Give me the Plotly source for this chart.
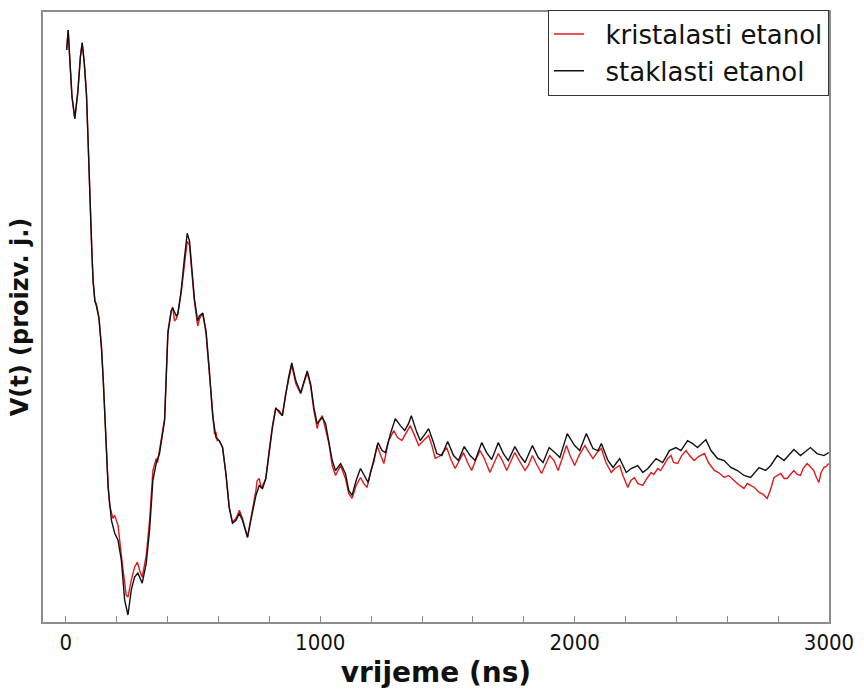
import plotly.graph_objects as go

# time (ns) and signal (arbitrary units)
t_black = [3, 9, 16, 24, 35, 47, 57, 64, 72, 81, 86, 90, 94, 97, 102, 107, 114, 120, 130, 140,
           147, 153, 159, 166, 179, 185, 192, 205, 218, 231, 244, 257, 270, 283, 300, 316, 329, 342,
           355, 368, 378, 388, 401, 414, 420, 434, 440, 453, 466, 477, 486, 496, 505, 518, 525, 538,
           551, 564, 577, 590, 603, 616, 629, 642, 655, 669, 682, 694, 714, 727, 747, 760, 773, 786,
           799, 812, 825, 838, 851, 864, 875, 888, 904, 923, 936, 949, 962, 975, 988, 1008, 1021,
           1034, 1047, 1060, 1080, 1099, 1112, 1125, 1141, 1158, 1178, 1188, 1210, 1227, 1243, 1256,
           1276, 1295, 1315, 1332, 1347, 1358, 1380, 1393, 1413, 1426, 1445, 1458, 1478, 1501, 1524,
           1543, 1566, 1589, 1609, 1635, 1654, 1674, 1700, 1720, 1739, 1765, 1785, 1805, 1834, 1857,
           1876, 1900, 1922, 1942, 1971, 2000, 2020, 2046, 2072, 2092, 2105, 2131, 2151, 2177, 2203,
           2222, 2248, 2268, 2288, 2320, 2346, 2373, 2398, 2418, 2444, 2464, 2483, 2516, 2536, 2562,
           2588, 2614, 2640, 2666, 2692, 2725, 2751, 2771, 2797, 2823, 2862, 2888, 2927, 2953, 2980,
           2999]
v_black = [574, 594, 562, 527, 505, 532, 567, 581, 562, 529, 492, 455, 422, 409, 372, 342, 322, 317,
           305, 275, 242, 209, 172, 135, 102, 95, 89, 82, 62, 22, 7, 32, 45, 49, 39, 59, 92, 142, 159,
           169, 185, 202, 289, 312, 315, 307, 309, 332, 365, 390, 382, 355, 325, 302, 307, 310, 292,
           252, 207, 185, 182, 175, 149, 115, 99, 102, 109, 102, 85, 102, 127, 137, 134, 144, 172, 195,
           214, 212, 207, 229, 245, 260, 242, 230, 242, 252, 239, 215, 199, 205, 199, 182, 162, 152,
           159, 149, 132, 127, 142, 154, 145, 140, 162, 180, 172, 170, 189, 204, 197, 192, 199, 207,
           190, 182, 189, 194, 180, 169, 167, 181, 167, 162, 176, 167, 162, 180, 170, 163, 180, 169,
           162, 176, 167, 160, 177, 165, 160, 175, 170, 165, 189, 177, 172, 189, 174, 172, 179, 162,
           155, 164, 150, 154, 157, 150, 154, 164, 160, 172, 175, 172, 182, 179, 175, 183, 172, 164,
           162, 155, 152, 147, 145, 155, 152, 157, 167, 162, 173, 167, 175, 169, 167, 170]

t_red = [3, 9, 16, 24, 35, 47, 57, 64, 72, 81, 86, 90, 94, 97, 102, 107, 114, 120, 130, 140, 147,
         153, 159, 166, 172, 179, 185, 192, 199, 205, 218, 231, 237, 244, 249, 257, 270, 281, 290,
         300, 316, 329, 342, 349, 355, 360, 368, 378, 388, 401, 414, 420, 427, 434, 440, 453, 466,
         477, 486, 496, 505, 518, 525, 538, 551, 564, 577, 584, 590, 595, 603, 616, 629, 642, 655,
         669, 682, 694, 714, 727, 747, 752, 760, 768, 773, 786, 799, 812, 825, 831, 838, 851, 864,
         875, 888, 904, 923, 936, 949, 962, 975, 988, 995, 1008, 1021, 1034, 1047, 1060, 1080, 1099,
         1112, 1125, 1141, 1158, 1171, 1184, 1199, 1210, 1223, 1237, 1250, 1269, 1289, 1304, 1321,
         1336, 1354, 1371, 1387, 1406, 1426, 1439, 1452, 1473, 1497, 1512, 1530, 1547, 1563, 1579,
         1595, 1610, 1628, 1645, 1667, 1684, 1700, 1716, 1733, 1747, 1765, 1782, 1805, 1818, 1834,
         1849, 1870, 1884, 1902, 1919, 1935, 1951, 1968, 1982, 2000, 2017, 2040, 2052, 2072, 2088,
         2105, 2123, 2144, 2158, 2177, 2190, 2209, 2221, 2235, 2248, 2268, 2284, 2301, 2311, 2327,
         2338, 2353, 2366, 2379, 2389, 2405, 2421, 2438, 2452, 2470, 2487, 2510, 2526, 2549, 2566,
         2588, 2605, 2627, 2644, 2666, 2679, 2692, 2707, 2725, 2742, 2757, 2769, 2784, 2797, 2810,
         2824, 2836, 2848, 2862, 2875, 2888, 2898, 2914, 2926, 2940, 2949, 2960, 2969, 2980, 2989,
         2999]
v_red = [574, 594, 562, 527, 505, 532, 567, 581, 562, 529, 492, 455, 422, 409, 372, 342, 322, 319,
         305, 275, 242, 209, 172, 137, 117, 109, 104, 107, 102, 97, 67, 37, 27, 25, 32, 42, 55, 60,
         52, 45, 67, 102, 152, 160, 164, 160, 172, 187, 204, 292, 312, 316, 302, 304, 309, 330, 362,
         382, 378, 352, 322, 297, 304, 310, 289, 250, 207, 189, 190, 182, 182, 175, 149, 115, 100,
         104, 112, 104, 85, 102, 132, 142, 144, 134, 137, 144, 172, 197, 215, 212, 210, 207, 229,
         242, 258, 239, 229, 240, 250, 237, 212, 194, 202, 207, 194, 179, 157, 147, 157, 144, 129,
         124, 137, 145, 139, 135, 152, 160, 177, 167, 159, 182, 192, 185, 182, 189, 197, 187, 177,
         182, 187, 177, 164, 167, 175, 164, 154, 162, 170, 160, 152, 162, 172, 164, 150, 160, 169,
         162, 152, 160, 170, 162, 152, 157, 167, 159, 149, 157, 167, 162, 152, 164, 177, 167, 157,
         167, 177, 172, 164, 170, 174, 160, 150, 154, 157, 147, 135, 142, 145, 139, 137, 144, 150,
         148, 154, 152, 159, 164, 167, 160, 159, 167, 172, 167, 162, 166, 169, 160, 152, 150, 145,
         147, 142, 138, 134, 139, 137, 135, 130, 128, 124, 132, 145, 147, 149, 144, 144, 148, 152,
         148, 147, 154, 159, 156, 152, 146, 140, 150, 155, 156, 159]

x_tickvals = [0, 200, 400, 600, 800, 1000, 1200, 1400, 1600, 1800, 2000, 2200, 2400, 2600, 2800, 3000]
x_ticktext = ["0", "", "", "", "", "1000", "", "", "", "", "2000", "", "", "", "", "3000"]

series_names = ["kristalasti etanol", "staklasti etanol"]

TICKFONT = "DejaVu Sans Condensed, DejaVu Sans, sans-serif"
FONT = "DejaVu Sans, sans-serif"
PAD = "\u00a0\u00a0"  # visual gap between legend line sample and label

fig = go.Figure()
fig.add_trace(go.Scatter(x=t_red, y=v_red, mode="lines", name=PAD + series_names[0],
                         line=dict(color="#e0191c", width=1.4)))
fig.add_trace(go.Scatter(x=t_black, y=v_black, mode="lines", name=PAD + series_names[1],
                         line=dict(color="#111111", width=1.4)))

fig.update_layout(
    width=864, height=697,
    margin=dict(l=43, r=31, t=10, b=75),
    paper_bgcolor="white", plot_bgcolor="white",
    font=dict(family=FONT, color="#111111"),
    showlegend=True,
    legend=dict(x=1, y=1.004, xanchor="right", yanchor="top",
                bordercolor="#333333", borderwidth=1, bgcolor="white",
                font=dict(size=26, family=FONT), tracegroupgap=0,
                itemwidth=30),
    xaxis=dict(range=[-90, 3000], showgrid=False, zeroline=False,
               showline=True, linecolor="#8c8c8c", linewidth=1.5, mirror=True,
               tickmode="array", tickvals=x_tickvals, ticktext=x_ticktext,
               ticks="inside", ticklen=6, tickcolor="#8c8c8c",
               tickfont=dict(size=22, family=TICKFONT),
               title=dict(text="<b>vrijeme (ns)</b>", font=dict(size=28, family=FONT), standoff=8)),
    yaxis=dict(range=[0, 612], showgrid=False, zeroline=False,
               showline=True, linecolor="#8c8c8c", linewidth=1.5, mirror=True,
               showticklabels=False, ticks="",
               title=dict(text="<b>V(t) (proizv. j.)</b>", font=dict(size=24, family=FONT), standoff=6)),
)

fig.write_html("out.html")
